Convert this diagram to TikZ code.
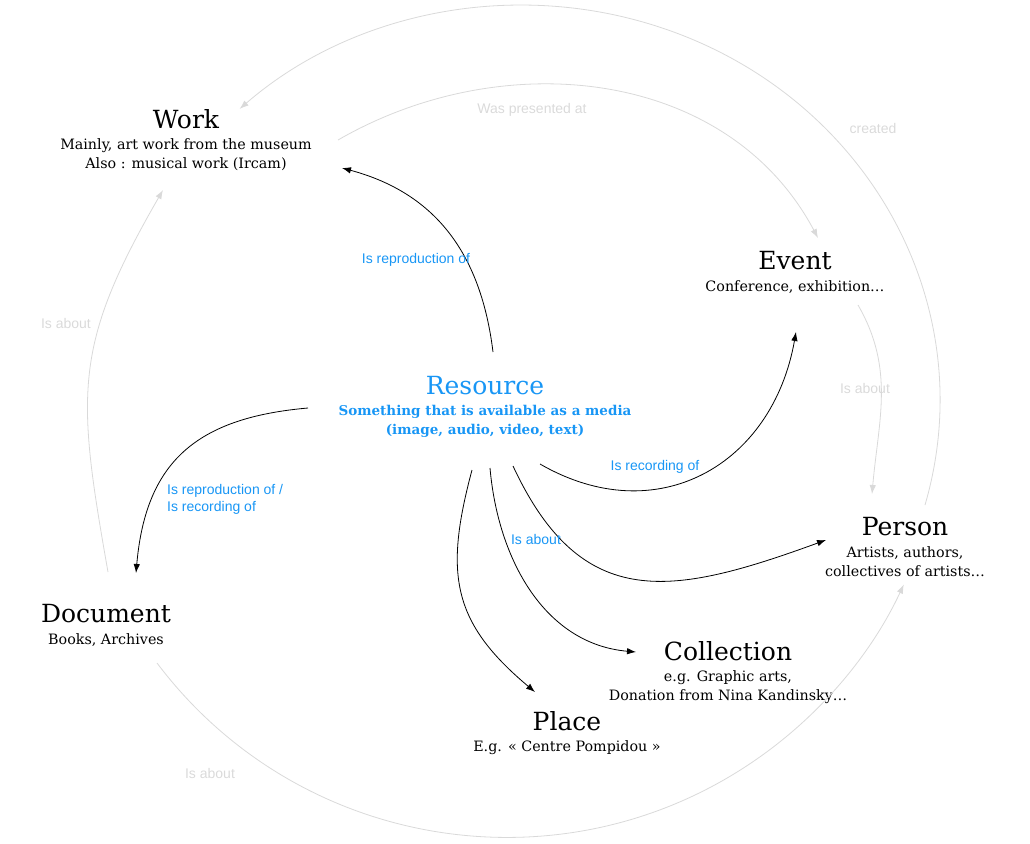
\documentclass[tikz,border=0pt]{standalone}
\usepackage{fontspec}
\setmainfont{DejaVu Serif}
\newfontfamily\labelfont{Liberation Sans}
\usetikzlibrary{positioning,arrows.meta}
\definecolor{resblue}{RGB}{24,150,245}
\definecolor{linkgray}{RGB}{217,217,217}
\definecolor{textgray}{RGB}{218,218,218}

\begin{document}
\begin{tikzpicture}[x=1pt,y=1pt,
  titlestyle/.style={inner sep=0pt,font=\fontsize{25}{30}\selectfont},
  descstyle/.style={inner sep=0pt,align=center,font=\fontsize{14.3}{19}\selectfont},
  linklabel/.style={inner sep=0pt,font=\labelfont\fontsize{14}{17}\selectfont,text=resblue},
  greylabel/.style={inner sep=0pt,font=\labelfont\fontsize{14}{17}\selectfont,text=textgray},
  mainlink/.style={draw=black,line width=0.8pt,-{Latex[length=9pt,width=6.5pt]}},
  greylink/.style={draw=linkgray,line width=0.8pt,-{Latex[length=9pt,width=6.5pt]}}
]
\useasboundingbox (0,0) rectangle (1030,-843);

\node [titlestyle] (work) at (186,-119) {Work} ;
\node [descstyle] (work desc) [below=10pt of work] {Mainly, art work from the museum\\Also : musical work (Ircam)} ;

\node [titlestyle] (event) at (795,-261) {Event} ;
\node [descstyle] (event desc) [below=10pt of event] {Conference, exhibition…} ;

\node [titlestyle,text=resblue] (res) at (485,-386) {Resource} ;
\node [descstyle,text=resblue,font=\bfseries\fontsize{13.5}{19}\selectfont] (res desc) [below=10pt of res] {Something that is available as a media\\(image, audio, video, text)} ;

\node [titlestyle] (person) at (905,-527) {Person} ;
\node [descstyle] (person desc) [below=10pt of person] {Artists, authors,\\collectives of artists…} ;

\node [titlestyle] (doc) at (106,-614) {Document} ;
\node [descstyle] (doc desc) [below=10pt of doc] {Books, Archives} ;

\node [titlestyle] (coll) at (728,-651) {Collection} ;
\node [descstyle] (coll desc) [below=10pt of coll] {e.g. Graphic arts,\\Donation from Nina Kandinsky…} ;

\node [titlestyle] (place) at (567,-721) {Place} ;
\node [descstyle] (place desc) [below=10pt of place] {E.g. « Centre Pompidou »} ;

\draw [mainlink] ([shift={(8,34)}]res.center) to[out=97,in=-15,looseness=1.05] ([shift={(156,-49)}]work.center) ;
\draw [mainlink] ([shift={(-177,-22)}]res.center) to[out=185,in=85,looseness=1.2] ([shift={(30,41)}]doc.center) ;
\draw [mainlink] ([shift={(55,-78)}]res.center) to[out=-30,in=-100,looseness=1.2] ([shift={(1,-71)}]event.center) ;
\draw [mainlink] ([shift={(28,-80)}]res.center) to[out=-65,in=200,looseness=1.3] ([shift={(-79,-13)}]person.center) ;
\draw [mainlink] ([shift={(5,-82)}]res.center) to[out=-85,in=175] ([shift={(-92,-1)}]coll.center) ;
\draw [mainlink] ([shift={(-13,-84)}]res.center) to[out=-105,in=140,looseness=1.2] ([shift={(-32,29)}]place.center) ;

\draw [greylink] ([shift={(20,22)}]person.center) arc[start angle=-15.4,end angle=132.5,x radius=418,y radius=395] ;
\draw [greylink] ([shift={(152,-21)}]work.center) to[out=30,in=118] ([shift={(23,23)}]event.center) ;
\draw [greylink] ([shift={(63,-44)}]event.center) to[out=-60,in=85] ([shift={(-33,33)}]person.center) ;
\draw [greylink] ([shift={(2,42)}]doc.center) to[out=100,in=-120,looseness=1.2] ([shift={(-23,-71)}]work.center) ;
\draw [greylink] ([shift={(51,-49)}]doc.center) arc[start angle=217,end angle=335,radius=438] ;

\node [linklabel] (lab repro) at (416,-260) {Is reproduction of} ;
\node [linklabel,align=left,anchor=west] (lab doc) at (167,-499.5) {Is reproduction of /\\Is recording of} ;
\node [linklabel] (lab rec) at (655,-467) {Is recording of} ;
\node [linklabel] (lab about) at (536,-539) {Is about} ;

\node [greylabel] (lab presented) at (532,-110) {Was presented at} ;
\node [greylabel] (lab created) at (873,-128) {created} ;
\node [greylabel] (lab about event) at (865,-388) {Is about} ;
\node [greylabel] (lab about work) at (66,-323) {Is about} ;
\node [greylabel] (lab about person) at (210,-773) {Is about} ;

\end{tikzpicture}
\end{document}
